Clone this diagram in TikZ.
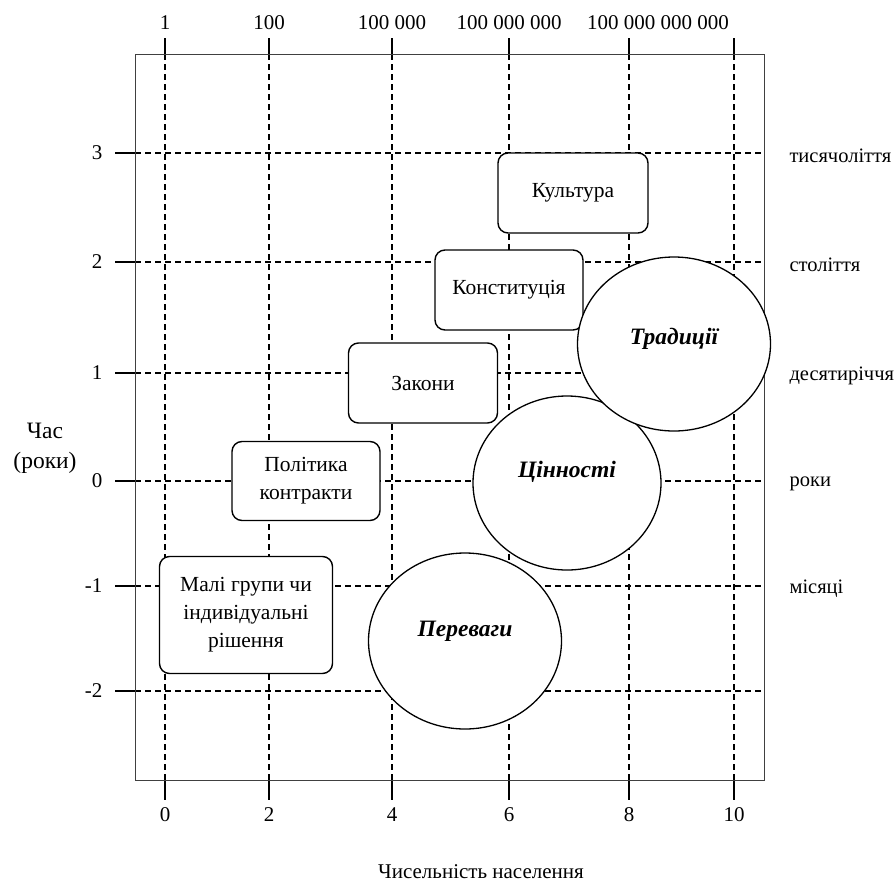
\documentclass[tikz,border=0pt]{standalone}
\usepackage{fontspec}
\setmainfont{Liberation Serif}
\usetikzlibrary{shapes.geometric}
\begin{document}
\begin{tikzpicture}[x=1pt,y=-1pt,font=\fontsize{21}{28}\selectfont,
 grid/.style={dash pattern=on 6pt off 4pt,line width=1.1pt},
 tick/.style={line width=1.1pt},
 rbox/.style={draw,fill=white,rounded corners=10pt,line width=1.4pt,align=center,inner sep=0pt,font=\fontsize{21.5}{28}\selectfont},
 oval/.style={draw,ellipse,fill=white,line width=1.3pt,inner sep=0pt,text height=16pt,font=\fontsize{23.5}{26}\selectfont\bfseries\itshape}]
\useasboundingbox (0,0) rectangle (895,884);
% vertical grid, ticks and scales
\foreach \x/\n in {165/0,269/2,392/4,509/6,629/8,734/10} {
 \draw[grid] (\x,54) -- (\x,780);
 \draw[tick] (\x,38) -- (\x,54) (\x,780) -- (\x,800);
 \node (b\n) at (\x,815) {\n};
}
\foreach \x/\t [count=\i] in {165/1,269/100,392/100 000,509/100 000 000,658/100 000 000 000}
 \node (top\i) at (\x,23) {\t};
% horizontal grid
\foreach \y/\v in {153/3,262/2,373/1,481/0,586/-1,691/-2} {
 \draw[grid] (135,\y) -- (764,\y);
 \draw[tick] (115,\y) -- (135,\y);
 \node[anchor=east] (l\v) at (106,\y) {\v};
}
\foreach \y/\t [count=\i] in {153/тисячоліття,262/століття,373/десятиріччя,481/роки,586/місяці}
 \node[anchor=west,font=\fontsize{20.5}{24}\selectfont] (r\i) at (786,\y+3) {\t};
\draw[line width=1pt,black!75] (135,54) rectangle (764,780);
% boxes
\node[rbox,minimum width=150pt,minimum height=80pt] (kult) at (573,193) {Культура};
\node[rbox,minimum width=148pt,minimum height=80pt] (konst) at (509,290) {Конституція};
\node[rbox,minimum width=149pt,minimum height=80pt] (zak) at (423,383) {Закони};
\node[rbox,minimum width=148pt,minimum height=79pt] (polit) at (306,481) {Політика\\контракти};
\node[rbox,minimum width=173pt,minimum height=117pt] (mali) at (246,615) {Малі групи чи\\індивідуальні\\рішення};
% ovals
\node[oval,minimum width=188pt,minimum height=174pt,text depth=27pt] (cinn) at (567,483) {Цінності};
\node[oval,minimum width=193pt,minimum height=176pt,text depth=25pt] (perev) at (465,641) {Переваги};
\node[oval,minimum width=193pt,minimum height=174pt,text depth=15pt] (trad) at (674,344) {Традиції};
% axis titles
\node[align=center,font=\fontsize{23.5}{30}\selectfont] (chas) at (45,448) {Час\\(роки)};
\node (pop) at (481,872) {Чисельність населення};
\end{tikzpicture}
\end{document}
